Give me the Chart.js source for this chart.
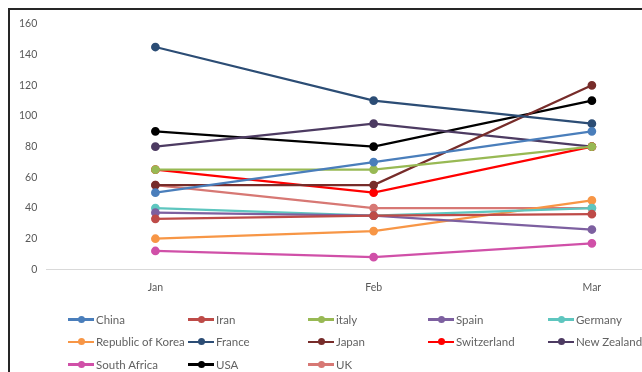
<!DOCTYPE html>
<html>
<head>
<meta charset="utf-8">
<script src="https://cdn.jsdelivr.net/npm/chart.js@4/dist/chart.umd.min.js"></script>
<style>
  body { margin: 0; background: #fff; width: 642px; height: 372px; overflow: hidden; position: relative; font-family: Lato, sans-serif; }
  #frame { position: absolute; left: 8px; top: 8px; width: 720px; height: 400px; border-left: 2px solid #262626; border-top: 2px solid #262626; box-sizing: border-box; }
  #wrap { position: absolute; left: 0; top: 0; width: 711px; height: 312px; }
  #legend { position: absolute; left: 68px; top: 308px; display: grid; grid-template-columns: repeat(5, 120px); }
  .item { display: flex; align-items: center; height: 22.5px; font-size: 11.5px; color: #626262; white-space: nowrap; }
  .swatch { position: relative; width: 26px; height: 2.5px; margin-right: 2px; flex: none; }
  .swatch span { position: absolute; left: 9.5px; top: -2.5px; width: 7px; height: 7px; border-radius: 50%; }
</style>
</head>
<body>
<div id="frame"></div>
<div id="wrap"><canvas id="lineChart"></canvas></div>
<div id="legend"></div>
<script>
const months = ['Jan', 'Feb', 'Mar'];
const yTicks = [0, 20, 40, 60, 80, 100, 120, 140, 160];

const china = [50, 70, 90];
const iran = [33, 35, 36];
const italy = [65, 65, 80];
const spain = [37, 35, 26];
const germany = [40, 35, 40];
const korea = [20, 25, 45];
const france = [145, 110, 95];
const japan = [55, 55, 120];
const switzerland = [65, 50, 80];
const newZealand = [80, 95, 80];
const southAfrica = [12, 8, 17];
const usa = [90, 80, 110];
const uk = [55, 40, 40];

const series = [
    ['China', china, '#4a7ebb'],
    ['Iran', iran, '#be4b48'],
    ['italy', italy, '#98b954'],
    ['Spain', spain, '#7d60a0'],
    ['Germany', germany, '#5ec6bf'],
    ['Republic of Korea', korea, '#f79646'],
    ['France', france, '#2c4d75'],
    ['Japan', japan, '#772c2a'],
    ['Switzerland', switzerland, '#ff0000'],
    ['New Zealand', newZealand, '#4d3b62'],
    ['South Africa', southAfrica, '#d050a8'],
    ['USA', usa, '#000000'],
    ['UK', uk, '#d77874']
];

const ctx = document.getElementById('lineChart').getContext('2d');
const lineChart = new Chart(ctx, {
    type: 'line',
    data: {
        labels: months,
        datasets: series.map(([name, values, color]) => ({
            label: name,
            data: values,
            borderColor: color,
            backgroundColor: color,
            pointBackgroundColor: color,
            pointBorderColor: color,
            borderWidth: 2.25,
            pointRadius: 3.25,
            tension: 0
        }))
    },
    options: {
        responsive: true,
        maintainAspectRatio: false,
        animation: false,
        layout: {
            padding: { left: 10, right: 10, top: 24, bottom: 6 }
        },
        plugins: {
            legend: { display: false },
            tooltip: { enabled: false }
        },
        scales: {
            x: {
                offset: true,
                grid: { display: false, drawTicks: false },
                border: { display: true, color: '#d9d9d9', width: 1 },
                ticks: {
                    padding: 12,
                    color: '#595959',
                    font: { family: 'Lato', size: 10.5 }
                }
            },
            y: {
                min: 0,
                max: 160,
                afterBuildTicks: axis => {
                    axis.ticks = yTicks.map(v => ({ value: v }));
                },
                grid: { display: false, drawTicks: false },
                border: { display: false },
                ticks: {
                    padding: 9,
                    color: '#595959',
                    font: { family: 'Lato', size: 10.5 }
                }
            }
        }
    }
});

// legend laid out as a fixed five-column grid
const legend = document.getElementById('legend');
lineChart.data.datasets.forEach(ds => {
    const item = document.createElement('div');
    item.className = 'item';
    item.innerHTML = '<div class="swatch" style="background:' + ds.borderColor + '"><span style="background:' +
        ds.borderColor + '"></span></div>' + ds.label;
    legend.appendChild(item);
});
</script>
</body>
</html>
